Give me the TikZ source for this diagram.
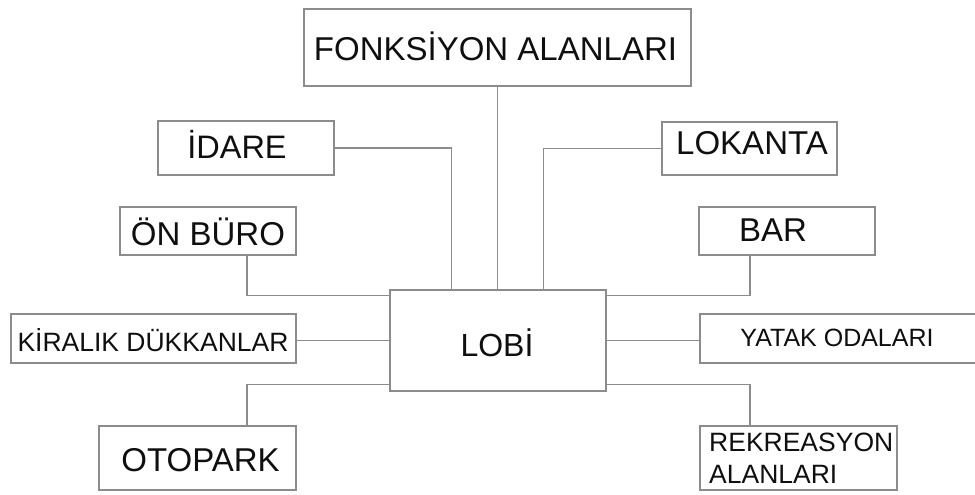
\documentclass[tikz,border=0pt]{standalone}
\usepackage{fontspec}
\setmainfont{Liberation Sans}
\usetikzlibrary{calc}
\definecolor{linegray}{RGB}{140,140,140}
\definecolor{txt}{RGB}{15,15,15}
\begin{document}
\begin{tikzpicture}[x=1pt,y=-1pt,
  box/.style={draw=linegray,line width=1.4pt,inner sep=0pt,minimum width=#1},
  lbl/.style={anchor=base,inner sep=0pt,text=txt},
  wire/.style={draw=linegray,line width=1.4pt}]
\useasboundingbox (0,0) rectangle (975,495);
\clip (0,0) rectangle (975,495);
\fill[white] (0,0) rectangle (975,495);
% boxes
\node[box=387pt,minimum height=77pt] (fonk) at (497.5,47.5) {};
\node[box=176pt,minimum height=54pt] (idare) at (246,148) {};
\node[box=176pt,minimum height=48pt] (onburo) at (208,231) {};
\node[box=216pt,minimum height=101pt] (lobi) at (498,340.5) {};
\node[box=175pt,minimum height=53pt] (lokanta) at (749.5,148.5) {};
\node[box=176pt,minimum height=48pt] (bar) at (787,231) {};
\node[box=285pt,minimum height=49pt] (kiralik) at (153.5,338.5) {};
\node[box=290pt,minimum height=49pt] (yatak) at (845,338.5) {};
\node[box=197pt,minimum height=64pt] (otopark) at (197.5,458) {};
\node[box=197pt,minimum height=64pt] (rekre) at (798.5,458) {};
% labels
\node[lbl,font=\fontsize{33}{36}\selectfont] (tfonk) at (495.5,60) {FONKSİYON ALANLARI};
\node[lbl,font=\fontsize{32.5}{36}\selectfont] (tidare) at (237,158) {İDARE};
\node[lbl,font=\fontsize{33}{36}\selectfont] (tonburo) at (208,245) {ÖN BÜRO};
\node[lbl,font=\fontsize{33}{36}\selectfont] (tlokanta) at (752,154) {LOKANTA};
\node[lbl,font=\fontsize{33}{36}\selectfont] (tbar) at (773,241) {BAR};
\node[lbl,font=\fontsize{26.5}{30}\selectfont] (tkiralik) at (153,351) {KİRALIK DÜKKANLAR};
\node[lbl,font=\fontsize{32}{36}\selectfont] (tlobi) at (497,356) {LOBİ};
\node[lbl,font=\fontsize{25}{30}\selectfont] (tyatak) at (837,346) {YATAK ODALARI};
\node[lbl,font=\fontsize{33}{36}\selectfont] (totopark) at (200.5,471) {OTOPARK};
\node[anchor=base west,inner sep=0pt,text=txt,align=left,font=\fontsize{26.5}{32}\selectfont] (trekre) at (709,483) {REKREASYON\\ALANLARI};
% connectors
\draw[wire] (fonk.south) -- (fonk.south |- lobi.north);
\draw[wire] (idare.east) -| ($(lobi.north west)+(62,0)$);
\draw[wire] (lokanta.west) -| ($(lobi.north west)+(154,0)$);
\draw[wire] ($(idare.south)+(1,0)$) -- ($(idare.south)+(1,0)$ |- onburo.north);
\draw[wire] ($(onburo.south)+(39,0)$) |- ($(lobi.north west)+(0,6)$);
\draw[wire] (lobi.west) -- (lobi.west -| kiralik.east);
\draw[wire] ($(lobi.south west)+(0,-7)$) -| ($(otopark.north)+(49.5,0)$);
\draw[wire] ($(bar.south)+(-37,0)$) |- ($(lobi.north east)+(0,6)$);
\draw[wire] (lobi.east) -- (lobi.east -| yatak.west);
\draw[wire] ($(lobi.south east)+(0,-7)$) -| ($(rekre.north)+(-48.5,0)$);
\end{tikzpicture}
\end{document}
